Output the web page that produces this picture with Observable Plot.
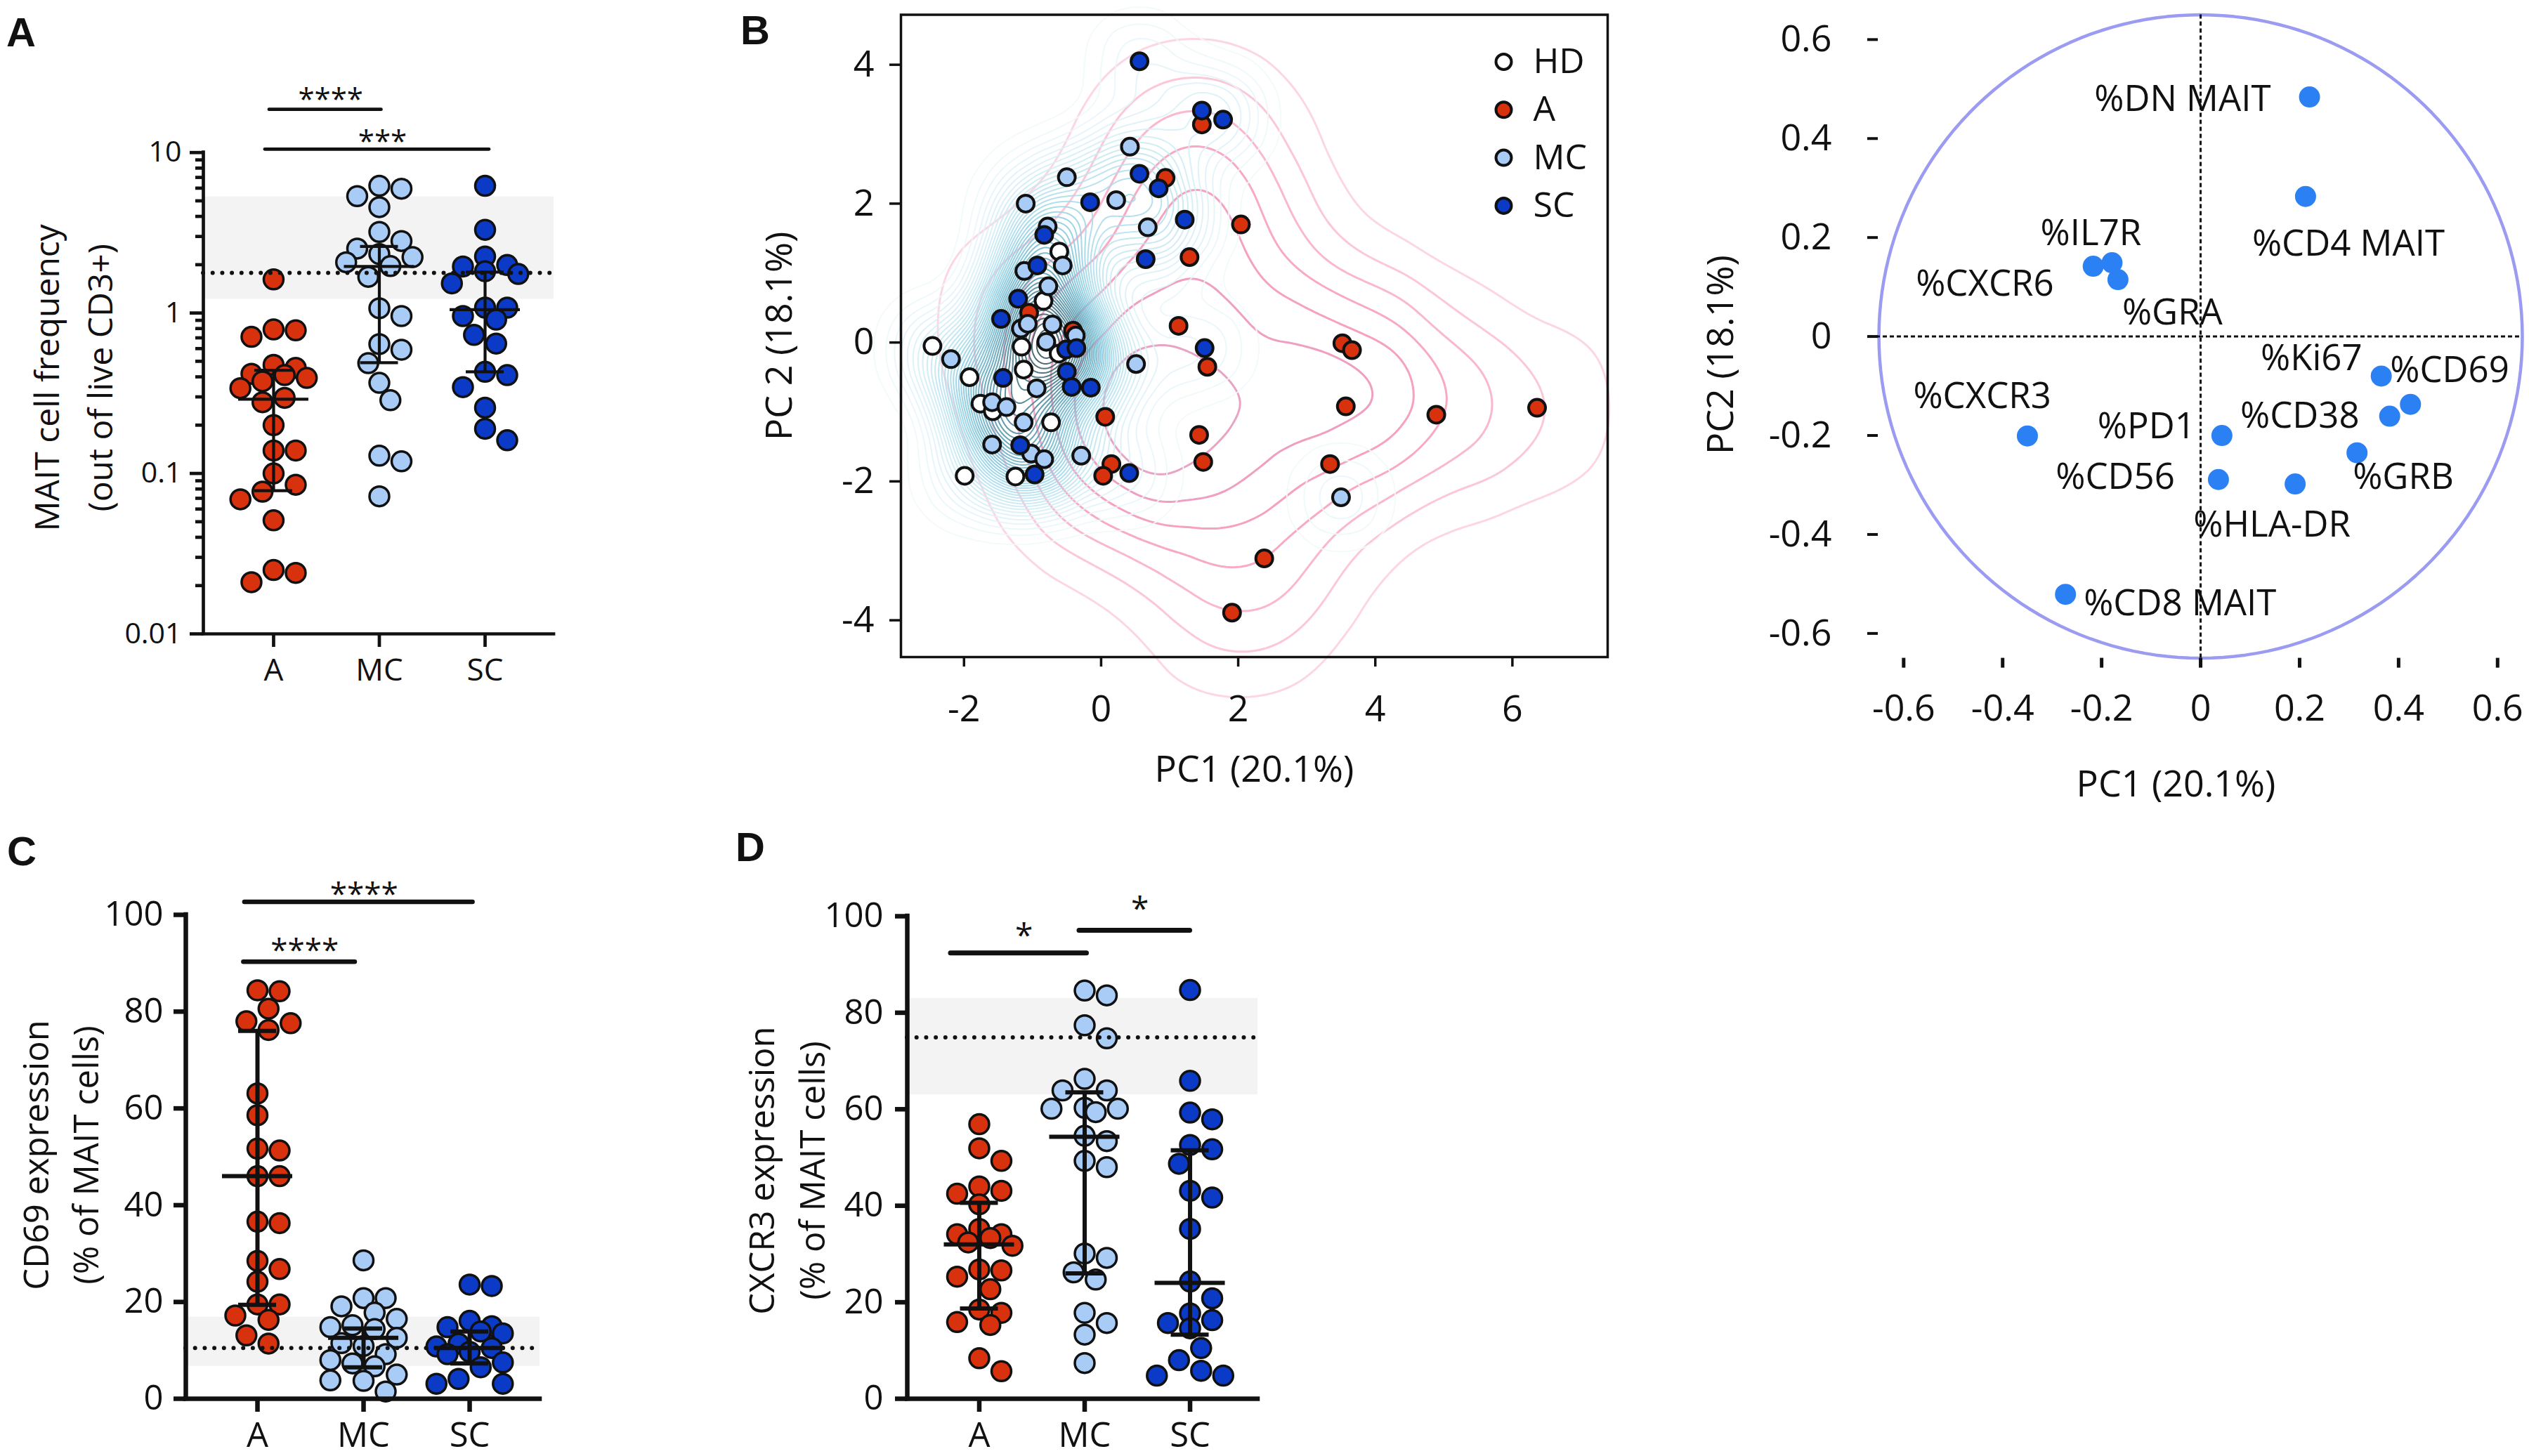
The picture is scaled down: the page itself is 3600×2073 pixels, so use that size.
<!DOCTYPE html>
<html><head><meta charset="utf-8">
<script src="https://cdn.jsdelivr.net/npm/d3@7"></script>
<script src="https://cdn.jsdelivr.net/npm/@observablehq/plot@0.6"></script>
<style>
html,body{margin:0;padding:0;background:#fff;}
#fig{position:relative;width:3600px;height:2073px;overflow:hidden;background:#fff;font-family:"Open Sans",sans-serif;}
.layer{position:absolute;}
.layer svg{display:block;}
.letter{position:absolute;font-family:"Liberation Sans",Arial,sans-serif;font-weight:bold;font-size:58px;line-height:1;color:#111;}
</style></head>
<body><div id="fig"></div>
<script>
// ---------------- DATA ----------------
const CATS = ["A", "MC", "SC"];
const GROUP_COLORS = {HD: "#ffffff", A: "#d7310d", MC: "#a9ccf6", SC: "#0b3ac6"};

// Panel A: MAIT cell frequency (% of live CD3+)
const freqA  = [1.62,0.79,0.78,0.71,0.475,0.455,0.418,0.41,0.394,0.375,0.34,0.296,0.278,0.20,0.139,0.139,0.10,0.085,0.077,0.069,0.051,0.025,0.024,0.021];
const freqMC = [6.2,5.95,5.35,4.57,3.2,2.81,2.52,2.33,2.23,2.07,1.96,1.68,1.07,0.957,0.64,0.59,0.487,0.367,0.286,0.129,0.119,0.072];
const freqSC = [6.2,3.3,2.25,1.99,1.95,1.82,1.75,1.53,1.08,1.08,0.957,0.91,0.73,0.645,0.43,0.41,0.345,0.257,0.19,0.161];
const freqMedian = [0.29, 1.95, 1.05];
const freqQ1 = [0.078, 0.49, 0.43];
const freqQ3 = [0.44, 2.6, 1.8];
const freqHDMedian = 1.78;
const freqHDRange = [1.22, 5.3];
const freqTicks = [0.01, 0.1, 1, 10];
const freqSig = [
  {x1: -0.04, x2: 1.02, y: 18.6, ty: 23.7, label: "****"},
  {x1: -0.08, x2: 2.04, y: 10.5, ty: 13.0, label: "***"}
];

// Panel C: CD69 expression
const cd69A  = [84.4,84.2,80.6,78.0,77.6,76.2,63.1,58.6,51.7,51.3,46.0,46.0,36.6,36.3,28.5,26.8,24.2,19.5,19.5,17.2,16.3,13.1,11.4];
const cd69MC = [28.6,20.8,20.8,19.1,17.8,16.5,15.2,14.8,14.4,12.6,11.5,10.9,9.2,8.0,7.3,6.7,5.0,3.8,3.7,1.5];
const cd69SC = [23.6,23.3,16.1,15.0,14.8,13.9,13.5,11.4,10.8,10.5,9.7,9.2,7.5,6.5,4.1,3.1,3.1];
const cd69Median = [46, 12.6, 10.5];
const cd69Q1 = [19.4, 6.5, 7.3];
const cd69Q3 = [76, 14.5, 13.9];
const cd69HDMedian = 10.5;
const cd69HDRange = [6.7, 16.9];
const cd69Sig = [
  {x1: -0.13, x2: 0.92, y: 90.3, ty: 94.3, label: "****"},
  {x1: -0.12, x2: 2.03, y: 102.7, ty: 105.9, label: "****"}
];

// Panel D: CXCR3 expression
const cxcr3A  = [56.9,51.9,49.3,44.0,43.1,42.5,40.3,35.2,34.1,34.1,33.3,32.4,31.7,26.8,26.6,25.3,22.7,18.5,17.8,15.9,15.3,8.4,5.7];
const cxcr3MC = [84.6,83.6,77.4,74.7,66.3,63.9,63.9,60.3,60.1,60.1,59.4,54.5,53.4,49.3,48.0,30.1,29.2,26.2,24.7,17.8,15.7,13.3,7.4];
const cxcr3SC = [84.7,65.9,59.3,57.9,52.6,51.7,48.7,43.1,41.7,35.2,24.3,20.8,17.7,16.3,15.7,14.6,10.5,8.0,5.8,4.8,4.8];
const cxcr3Median = [32, 54.3, 24];
const cxcr3Q1 = [18.7, 26, 13.3];
const cxcr3Q3 = [40.6, 63.5, 51.5];
const cxcr3HDMedian = 74.9;
const cxcr3HDRange = [63, 83];
const cxcr3Sig = [
  {x1: -0.27, x2: 1.02, y: 92.4, ty: 97.6, label: "*"},
  {x1: 0.95, x2: 2.0, y: 97.1, ty: 103.2, label: "*"}
];
const pctTicks = [0, 20, 40, 60, 80, 100];

// Panel B: PCA scores
const pcaHD_pc1 = [-0.61,-0.84,-2.46,-1.92,-1.16,-1.13,-1.76,-1.58,-0.73,-1.99,-1.25,-0.40,-0.62];
const pcaHD_pc2 = [1.31,0.60,-0.05,-0.50,-0.06,-0.39,-0.88,-0.99,-1.15,-1.92,-1.93,0.14,-0.16];
const pcaA_pc1  = [-1.05,1.13,1.55,0.06,0.15,0.03,1.43,1.49,1.29,1.47,0.94,2.04,3.52,3.66,3.57,4.89,6.36,3.34,2.38,1.91,-0.41];
const pcaA_pc2  = [0.43,0.24,-0.35,-1.07,-1.75,-1.92,-1.33,-1.72,1.23,3.14,2.37,1.70,-0.01,-0.11,-0.92,-1.04,-0.94,-1.75,-3.11,-3.89,0.17];
const pcaMC_pc1 = [-0.56,-1.12,-0.77,-0.71,-1.17,-1.07,-0.80,-0.37,-2.19,-0.94,-1.59,-1.38,-1.13,-1.59,-1.02,-0.83,-0.29,0.51,0.42,-0.50,0.22,-1.10,0.68,-0.78,3.50];
const pcaMC_pc2 = [1.11,1.03,0.81,0.26,0.20,0.27,0.01,0.10,-0.24,-0.66,-0.86,-0.93,-1.15,-1.47,-1.60,-1.68,-1.63,-0.31,2.82,2.38,2.05,2.00,1.66,1.67,-2.23];
const pcaSC_pc1 = [-0.93,-1.21,-1.46,0.65,-0.51,-0.36,-1.43,-0.50,-0.43,-0.15,-1.18,-0.97,0.41,1.51,0.56,1.47,1.78,0.56,0.84,-0.16,1.22,-0.83];
const pcaSC_pc2 = [1.11,0.63,0.34,1.20,-0.10,-0.08,-0.51,-0.42,-0.64,-0.65,-1.48,-1.90,-1.88,-0.08,4.05,3.34,3.21,2.43,2.22,2.02,1.77,1.55];
const pcaXTicks = [-2, 0, 2, 4, 6];
const pcaYTicks = [-4, -2, 0, 2, 4];
const legendGroups = ["HD", "A", "MC", "SC"];

// Panel B: loadings
const loadNames = ["%DN MAIT","%CD4 MAIT","%IL7R","%CXCR6","%GRA","%Ki67","%CD69","%CD38","%GRB","%PD1","%CD56","%HLA-DR","%CXCR3","%CD8 MAIT"];
const loadPC1 = [0.22,0.212,-0.179,-0.217,-0.167,0.365,0.424,0.382,0.316,0.043,0.036,0.191,-0.35,-0.273];
const loadPC2 = [0.484,0.283,0.149,0.142,0.115,-0.08,-0.137,-0.161,-0.235,-0.2,-0.289,-0.298,-0.201,-0.521];
const loadTicks = [-0.6, -0.4, -0.2, 0, 0.2, 0.4, 0.6];
const circleRadius = 0.65;

// label layout (pixel offsets, style only)
const loadLabelLayout = [
  {anchor:"end", dx:-55, dy:4}, {anchor:"start", dx:-76, dy:68}, {anchor:"middle", dx:-30, dy:-41},
  {anchor:"end", dx:-56, dy:26}, {anchor:"start", dx:6, dy:48}, {anchor:"end", dx:-27, dy:-25},
  {anchor:"start", dx:-29, dy:-48}, {anchor:"end", dx:-43, dy:0}, {anchor:"start", dx:-6, dy:35},
  {anchor:"end", dx:-38, dy:-12}, {anchor:"end", dx:-62, dy:-3}, {anchor:"middle", dx:-33, dy:59},
  {anchor:"end", dx:34, dy:-56}, {anchor:"start", dx:26, dy:13}
];

// ---------------- HELPERS ----------------
const FONT = '"Open Sans", sans-serif';
const INK = "#111";
function place(el, left, top) {
  const d = document.createElement("div");
  d.className = "layer"; d.style.left = left + "px"; d.style.top = top + "px";
  d.appendChild(el); document.getElementById("fig").appendChild(d);
}
function letter(t, left, top) {
  const d = document.createElement("div");
  d.className = "letter"; d.textContent = t; d.style.left = left + "px"; d.style.top = top + "px";
  document.getElementById("fig").appendChild(d);
}
// simple beeswarm in pixel space (returns horizontal pixel offsets)
function swarm(py, rad) {
  const n = py.length, order = d3.range(n).sort((a, b) => py[a] - py[b]);
  const step = rad, maxK = 3, minD = 2 * rad * 0.92;
  const cands = [0]; for (let k = 1; k <= maxK; k++) cands.push(k * step, -k * step);
  const placed = [], off = new Array(n);
  for (const i of order) {
    let best = 0, bestD = -1;
    for (const c of cands) {
      let dmin = Infinity;
      for (const p of placed) { const d = Math.hypot(c - p[0], py[i] - p[1]); if (d < dmin) dmin = d; }
      if (dmin >= minD) { best = c; bestD = dmin; break; }
      if (dmin > bestD) { bestD = dmin; best = c; }
    }
    off[i] = best; placed.push([best, py[i]]);
  }
  return off;
}

function catPanel(o) {
  const W = o.width, H = o.height;
  const yPix = (o.log ? d3.scaleLog() : d3.scaleLinear()).domain(o.yDomain).range([H - o.mB, o.mT]);
  const pxPerCat = (W - o.mL - o.mR) / (o.xDomain[1] - o.xDomain[0]);
  const pts = [];
  o.groups.forEach((vals, gi) => {
    const offs = swarm(vals.map(v => yPix(v)), o.r + o.sw / 2);
    vals.forEach((v, k) => pts.push({cat: CATS[gi], x: gi + offs[k] / pxPerCat, y: v}));
  });
  const summ = CATS.map((c, i) => ({i, med: o.median[i], q1: o.q1[i], q3: o.q3[i]}));
  const medHalf = o.medHalfPx / pxPerCat, capHalf = o.capHalfPx / pxPerCat;
  const marks = [
    Plot.rect([o.band], {x1: o.xDomain[0], x2: o.xDomain[1], y1: d => d[0], y2: d => d[1], fill: "#f3f3f3"}),
    Plot.dot(pts, {x: "x", y: "y", r: o.r, fill: d => GROUP_COLORS[d.cat], stroke: INK, strokeWidth: o.sw}),
    Plot.ruleY([o.ref], {stroke: INK, strokeWidth: 6, strokeDasharray: "0 13.7", strokeLinecap: "round"}),
    Plot.ruleX(summ, {x: "i", y1: "q1", y2: "q3", stroke: INK, strokeWidth: o.barW}),
    Plot.ruleY(summ, {y: "med", x1: d => d.i - medHalf, x2: d => d.i + medHalf, stroke: INK, strokeWidth: o.barW}),
    Plot.ruleY(summ, {y: "q1", x1: d => d.i - capHalf, x2: d => d.i + capHalf, stroke: INK, strokeWidth: o.barW}),
    Plot.ruleY(summ, {y: "q3", x1: d => d.i - capHalf, x2: d => d.i + capHalf, stroke: INK, strokeWidth: o.barW}),
    Plot.ruleY(o.sig, {y: "y", x1: "x1", x2: "x2", stroke: INK, strokeWidth: o.sigW, strokeLinecap: "round"}),
    Plot.text(o.sig, {x: d => (d.x1 + d.x2) / 2 + 0.05, y: "ty", text: "label", fontSize: o.starFont, dy: 0.27 * o.starFont, fill: INK}),
    Plot.ruleX([o.xDomain[0]], {stroke: INK, strokeWidth: o.axisW, strokeLinecap: "square"}),
    Plot.ruleY([o.yDomain[0]], {stroke: INK, strokeWidth: o.axisW, strokeLinecap: "square"}),
    Plot.axisY(o.yTicks, {tickSize: o.tickY, tickPadding: o.padY, fontSize: o.tickFont, strokeWidth: o.axisW, tickFormat: o.tickFormat, label: null}),
    Plot.axisX([0, 1, 2], {tickSize: o.tickX, tickPadding: o.padX, fontSize: o.catFont, strokeWidth: o.axisW, tickFormat: i => CATS[i], label: null}),
    Plot.text([o.title], {frameAnchor: "left", text: d => d, rotate: -90, textAnchor: "middle", lineAnchor: "middle", dx: o.titleDx, dy: o.titleDy, fontSize: o.titleFont, lineHeight: o.titleLH, fill: INK})
  ];
  if (o.minorTicks) marks.push(Plot.axisY(o.minorTicks, {tickSize: o.minorSize, fontSize: 1, strokeWidth: o.axisW, tickFormat: () => "", label: null}));
  return Plot.plot({
    width: W, height: H, marginLeft: o.mL, marginRight: o.mR, marginTop: o.mT, marginBottom: o.mB,
    x: {domain: o.xDomain, label: null},
    y: {type: o.log ? "log" : "linear", domain: o.yDomain, label: null},
    color: {type: "identity"},
    style: {fontFamily: FONT, color: INK, background: "transparent", overflow: "visible"},
    marks
  });
}

// ---------------- PANEL A ----------------
const minorA = [];
for (const dec of [0.01, 0.1, 1]) for (let k = 2; k <= 9; k++) minorA.push(+(k * dec).toPrecision(3));
place(catPanel({
  width: 800, height: 1000, mL: 289, mR: 12, mT: 216.7, mB: 98,
  xDomain: [-0.664, 2.651], log: true, yDomain: [0.01, 10], yTicks: freqTicks, tickFormat: d => String(d),
  minorTicks: minorA, minorSize: 11,
  groups: [freqA, freqMC, freqSC], median: freqMedian, q1: freqQ1, q3: freqQ3,
  ref: freqHDMedian, band: freqHDRange, sig: freqSig,
  r: 14, sw: 3.5, barW: 4.2, sigW: 4.7, axisW: 4.7, medHalfPx: 50, capHalfPx: 27,
  tickY: 19, padY: 12, tickX: 19, padX: 16, tickFont: 41, catFont: 44, starFont: 42,
  title: "MAIT cell frequency\n(out of live CD3+)", titleDx: -192, titleDy: -22, titleFont: 48, titleLH: 1.6
}), 0, 0);

// ---------------- PANEL C ----------------
place(catPanel({
  width: 800, height: 923, mL: 264, mR: 32, mT: 152, mB: 82,
  xDomain: [-0.6755, 2.662], log: false, yDomain: [0, 100], yTicks: pctTicks, tickFormat: d => String(d),
  groups: [cd69A, cd69MC, cd69SC], median: cd69Median, q1: cd69Q1, q3: cd69Q3,
  ref: cd69HDMedian, band: cd69HDRange, sig: cd69Sig,
  r: 14, sw: 3.5, barW: 6, sigW: 6.5, axisW: 6.5, medHalfPx: 50, capHalfPx: 27,
  tickY: 17, padY: 15, tickX: 19, padX: 15, tickFont: 49, catFont: 49, starFont: 44,
  title: "CD69 expression\n(% of MAIT cells)", titleDx: -182.5, titleDy: -2.5, titleFont: 49, titleLH: 1.45
}), 0, 1150);

// ---------------- PANEL D ----------------
place(catPanel({
  width: 770, height: 923, mL: 261, mR: 10, mT: 154, mB: 82,
  xDomain: [-0.683, 2.643], log: false, yDomain: [0, 100], yTicks: pctTicks, tickFormat: d => String(d),
  groups: [cxcr3A, cxcr3MC, cxcr3SC], median: cxcr3Median, q1: cxcr3Q1, q3: cxcr3Q3,
  ref: cxcr3HDMedian, band: cxcr3HDRange, sig: cxcr3Sig,
  r: 14, sw: 3.5, barW: 6, sigW: 7, axisW: 6.5, medHalfPx: 50, capHalfPx: 27,
  tickY: 17, padY: 17, tickX: 19, padX: 15, tickFont: 49, catFont: 49, starFont: 46,
  title: "CXCR3 expression\n(% of MAIT cells)", titleDx: -177, titleDy: 18.5, titleFont: 49, titleLH: 1.47
}), 1030, 1150);

// ---------------- PANEL B (scores) ----------------
const toPts = (xs, ys, g) => xs.map((x, i) => ({x, y: ys[i], g}));
const ptsHD = toPts(pcaHD_pc1, pcaHD_pc2, "HD");
const ptsA = toPts(pcaA_pc1, pcaA_pc2, "A");
const ptsMC = toPts(pcaMC_pc1, pcaMC_pc2, "MC");
const ptsSC = toPts(pcaSC_pc1, pcaSC_pc2, "SC");
const PCA = {width: 1250, height: 1150, marginLeft: 232, marginRight: 12, marginTop: 20.5, marginBottom: 215};
const pcaX = [-2.92, 7.39], pcaY = [-4.53, 4.72];
function densityLayer(data, bandwidth, thresholds, cols, sw, op) {
  return Plot.plot({
    ...PCA,
    x: {domain: pcaX, axis: null}, y: {domain: pcaY, axis: null},
    color: {type: "linear", interpolate: d3.interpolateRgbBasis(cols)},
    style: {background: "transparent"},
    marks: [Plot.density(data, {x: "x", y: "y", bandwidth, thresholds, stroke: "density", strokeWidth: sw, strokeOpacity: op})]
  });
}
place(densityLayer(ptsA, 96, 8, ["#fde6ee", "#fccbdb", "#f9b0c9", "#f59abb", "#e7a4c4"], 3, 1), 1050, 0);
place(densityLayer([...ptsHD, ...ptsMC, ...ptsSC], 44, 44, ["#f6fbfd", "#c6e9f3", "#86cbe0", "#4f95ab", "#3a5862"], 2, 0.9), 1050, 0);

const pcaMarks = [
  Plot.frame({stroke: INK, strokeWidth: 3.5}),
  Plot.axisX(pcaXTicks, {tickSize: 14, tickPadding: 41, fontSize: 52, strokeWidth: 3.5, label: null, tickFormat: d => String(d)}),
  Plot.axisY(pcaYTicks, {tickSize: 16, tickPadding: 22, fontSize: 52, strokeWidth: 3.5, label: null, tickFormat: d => String(d)}),
  ...[ptsHD, ptsA, ptsMC, ptsSC].map(p => Plot.dot(p, {x: "x", y: "y", r: 12, fill: d => GROUP_COLORS[d.g], stroke: INK, strokeWidth: 4})),
  Plot.text(["PC1 (20.1%)"], {frameAnchor: "bottom", lineAnchor: "middle", text: d => d, dy: 161, fontSize: 52, fill: INK}),
  Plot.text(["PC 2 (18.1%)"], {frameAnchor: "left", textAnchor: "middle", lineAnchor: "middle", text: d => d, dx: -172, rotate: -90, fontSize: 52, fill: INK})
];
legendGroups.forEach((g, i) => {
  pcaMarks.push(Plot.dot([g], {frameAnchor: "top-right", dx: -148, dy: 67 + 68.3 * i, r: 11, fill: GROUP_COLORS[g], stroke: INK, strokeWidth: 4}));
  pcaMarks.push(Plot.text([g], {frameAnchor: "top-right", dx: -106, dy: 67 + 68.3 * i, text: d => d, textAnchor: "start", lineAnchor: "middle", fontSize: 50, fill: INK}));
});
place(Plot.plot({
  ...PCA, x: {domain: pcaX, label: null}, y: {domain: pcaY, label: null}, color: {type: "identity"},
  style: {fontFamily: FONT, color: INK, background: "transparent", overflow: "visible"},
  marks: pcaMarks
}), 1050, 0);

// ---------------- PANEL B (loadings) ----------------
const loadings = loadNames.map((n, i) => ({name: n, pc1: loadPC1[i], pc2: loadPC2[i]}));
const circlePts = d3.range(0, 361, 2).map(a => ({x: circleRadius * Math.cos(a * Math.PI / 180), y: circleRadius * Math.sin(a * Math.PI / 180)}));
const loadFmt = d => d === 0 ? "0" : d.toFixed(1);
const loadMarks = [
  Plot.line(circlePts, {x: "x", y: "y", stroke: "#9b9bf2", strokeWidth: 4.5}),
  Plot.ruleX([0], {stroke: INK, strokeWidth: 3, strokeDasharray: "6 4"}),
  Plot.ruleY([0], {stroke: INK, strokeWidth: 3, strokeDasharray: "6 4"}),
  Plot.dot(loadings, {x: "pc1", y: "pc2", r: 15, fill: "#2b80f4"}),
  Plot.axisY(loadTicks, {tickSize: 15, dx: 13, tickPadding: 51, fontSize: 52, strokeWidth: 4, label: null, tickFormat: loadFmt}),
  Plot.axisX(loadTicks, {tickSize: 14, tickPadding: 38, fontSize: 52, strokeWidth: 5, label: null, tickFormat: loadFmt}),
  Plot.text(["PC1 (20.1%)"], {frameAnchor: "bottom", lineAnchor: "middle", text: d => d, dx: -28, dy: 180, fontSize: 52, fill: INK}),
  Plot.text(["PC2 (18.1%)"], {frameAnchor: "left", textAnchor: "middle", lineAnchor: "middle", text: d => d, dx: -210, dy: 26, rotate: -90, fontSize: 52, fill: INK})
];
loadings.forEach((d, i) => {
  const L = loadLabelLayout[i];
  loadMarks.push(Plot.text([d], {x: "pc1", y: "pc2", text: "name", textAnchor: L.anchor, dx: L.dx, dy: L.dy, fontSize: 51, fill: INK}));
});
place(Plot.plot({
  width: 1200, height: 1160, marginLeft: 260, marginRight: 10, marginTop: 20.6, marginBottom: 223.4,
  x: {domain: [-0.67, 0.65], label: null}, y: {domain: [-0.65, 0.65], label: null},
  style: {fontFamily: FONT, color: INK, background: "transparent", overflow: "visible"},
  marks: loadMarks
}), 2400, 0);

// ---------------- LETTERS ----------------
letter("A", 9, 17);
letter("B", 1054, 14);
letter("C", 10, 1183);
letter("D", 1047, 1177);
</script></body></html>
